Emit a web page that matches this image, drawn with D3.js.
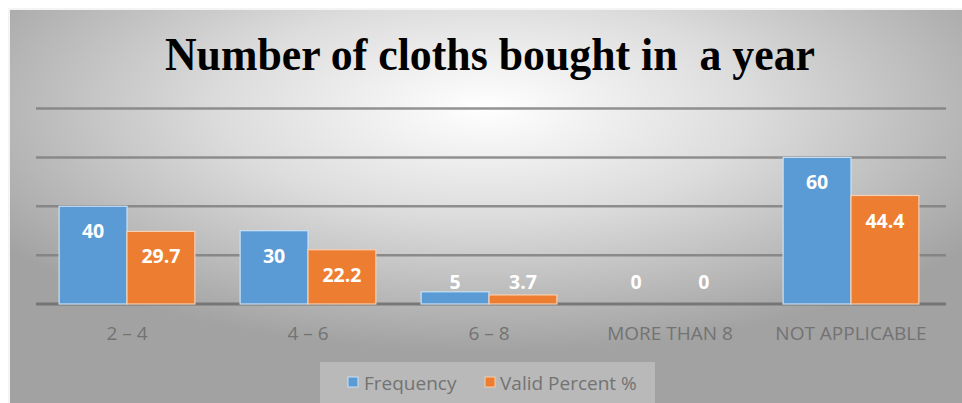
<!DOCTYPE html>
<html><head><meta charset="utf-8">
<script src="https://cdn.jsdelivr.net/npm/d3@7"></script>
<style>body{margin:0;background:#fff;}svg{display:block;}</style>
</head><body>
<svg id="chart" width="962" height="403"></svg>
<script>
const categories = ["2 – 4", "4 – 6", "6 – 8", "MORE THAN 8", "NOT APPLICABLE"];
const frequency = [40, 30, 5, 0, 60];
const validPercent = [29.7, 22.2, 3.7, 0, 44.4];
const seriesNames = ["Frequency", "Valid Percent %"];
const yTicks = [0, 20, 40, 60, 80];
const colors = ["#5b9bd5", "#ed7d31"];
const title = "Number of cloths bought in  a year";

const svg = d3.select("#chart");
const defs = svg.append("defs");
const grad = defs.append("radialGradient").attr("id","bg")
  .attr("cx",0.5).attr("cy",0.25).attr("r",0.62);
grad.append("stop").attr("offset",0).attr("stop-color","#ffffff");
grad.append("stop").attr("offset",0.45).attr("stop-color","#dcdcdc");
grad.append("stop").attr("offset",1).attr("stop-color","#a2a2a2");

svg.append("rect").attr("x",8).attr("y",8).attr("width",954).attr("height",395).attr("fill","#f4f4f4");
svg.append("rect").attr("x",10).attr("y",10).attr("width",952).attr("height",393).attr("fill","url(#bg)");

svg.append("text").attr("x",490).attr("y",70).attr("text-anchor","middle")
  .attr("xml:space","preserve").style("white-space","pre")
  .attr("font-family","'Liberation Serif','Times New Roman',serif").attr("font-weight","bold")
  .attr("font-size",47).attr("fill","#000")
  .attr("textLength",650).attr("lengthAdjust","spacingAndGlyphs")
  .text(title);

const x0 = d3.scaleBand().domain(categories).range([36.5, 941.5]).paddingInner(0.25).paddingOuter(0.125);
const x1 = d3.scaleBand().domain(seriesNames).range([0, x0.bandwidth()]);
const y = d3.scaleLinear().domain([0, 80]).range([304, 108.5]);

svg.append("g").selectAll("line").data(yTicks).join("line")
  .attr("x1",36).attr("x2",946)
  .attr("y1",d=>y(d)).attr("y2",d=>y(d))
  .attr("stroke",d=>d===0?"#6e6e6e":"#808080").attr("stroke-width",d=>d===0?3:2.5).attr("opacity",0.85);

const series = [frequency, validPercent];
const g = svg.append("g");
series.forEach((vals, si) => {
  g.append("g").selectAll("rect").data(vals).join("rect")
    .attr("x",(d,i)=>x0(categories[i]) + x1(seriesNames[si]))
    .attr("y",d=>y(d))
    .attr("width",x1.bandwidth())
    .attr("height",d=>y(0)-y(d))
    .attr("fill",colors[si])
    .attr("stroke",si===0?"#c9e1f5":"#f8cfb0").attr("stroke-width",1.2)
    .attr("display",d=>d===0?"none":null);
  g.append("g").selectAll("text").data(vals).join("text")
    .attr("x",(d,i)=>x0(categories[i]) + x1(seriesNames[si]) + x1.bandwidth()/2)
    .attr("y",d=>Math.min(y(d)+25, y(0)-22))
    .attr("dy","0.36em")
    .attr("text-anchor","middle")
    .attr("font-family","'Open Sans', sans-serif").attr("font-weight","bold")
    .attr("font-size",19.5).attr("fill","#ffffff")
    .text(d=>d);
});

const xAxis = d3.axisBottom(x0).tickSize(0).tickPadding(0);
const ax = svg.append("g").attr("transform","translate(0,"+ (y(0)+35.5) +")").call(xAxis);
ax.select(".domain").remove();
ax.selectAll("text").attr("font-family","'Open Sans', sans-serif").attr("font-size",19)
  .attr("fill","#737373").attr("dy",0);

const leg = svg.append("g");
leg.append("rect").attr("x",320).attr("y",362).attr("width",335).attr("height",41).attr("fill","#e6e6e6").attr("opacity",0.35);
const items = [{x:348, tx:364}, {x:485, tx:500}];
seriesNames.forEach((n,i)=>{
  leg.append("rect").attr("x",items[i].x).attr("y",377).attr("width",10).attr("height",10)
    .attr("fill",colors[i]).attr("stroke",i===0?"#c9e1f5":"#f8cfb0").attr("stroke-width",1);
  leg.append("text").attr("x",items[i].tx).attr("y",389.5)
    .attr("font-family","'Open Sans', sans-serif").attr("font-size",19).attr("fill","#737373").text(n);
});
</script>
</body></html>
